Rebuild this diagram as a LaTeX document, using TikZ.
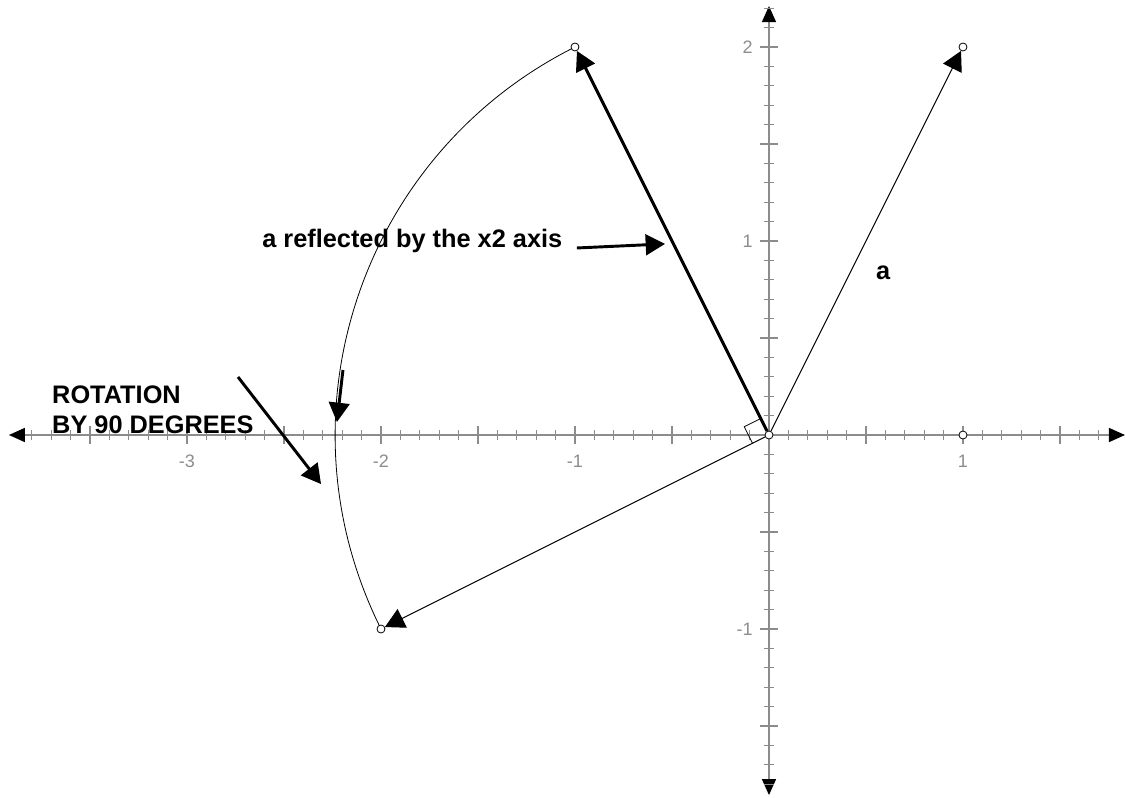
\documentclass[tikz,border=0pt]{standalone}
\usepackage{fontspec}
\setmainfont{Liberation Sans}
\usetikzlibrary{arrows.meta}
\definecolor{axisgray}{rgb}{0.55,0.55,0.55}

\tikzset{
  endpt/.style={circle, draw, fill=white, inner sep=0pt, minimum size=6pt, line width=0.6pt},
  ticklabel/.style={text=axisgray, font=\fontsize{13.5}{15}\selectfont, inner sep=0pt},
  boldlabel/.style={font=\fontsize{19}{22}\selectfont\bfseries, inner sep=0pt}
}

\begin{document}
\begin{tikzpicture}[x=145.5pt, y=145.5pt, >={Triangle[length=14.5pt, width=15.5pt]}]
  \useasboundingbox (-3.9639,-1.8660) rectangle (1.8351,2.2423);
  % axes with arrows at both ends
  \coordinate (xmin) at (-3.918,0); \coordinate (xmax) at (1.835,0);
  \coordinate (ymin) at (0,-1.856); \coordinate (ymax) at (0,2.211);
  \draw[axisgray, line width=1.1pt, {Triangle[length=12pt, width=10.5pt, color=black]}-{Triangle[length=12pt, width=10.5pt, color=black]}] (xmin) -- (xmax);
  \draw[axisgray, line width=1.1pt, {Triangle[length=12pt, width=10.5pt, color=black]}-{Triangle[length=12pt, width=10.5pt, color=black]}] (ymin) -- (ymax);
  % ticks every 0.1, longer every 0.5
  \foreach \i in {-38,...,17} {
    \ifnum\i=0 \else
      \pgfmathsetmacro{\len}{ifthenelse(mod(\i,5)==0,0.044,0.028)}
      \draw[axisgray, line width=0.9pt] (\i/10,-\len) -- (\i/10,\len);
    \fi
  }
  \foreach \i in {-18,...,22} {
    \ifnum\i=0 \else
      \pgfmathsetmacro{\len}{ifthenelse(mod(\i,5)==0,0.044,0.028)}
      \draw[axisgray, line width=0.9pt] (-\len,\i/10) -- (\len,\i/10);
    \fi
  }
  \foreach \n in {-3,-2,-1,1}
    \node[ticklabel] (xlab\n) at (\n,-0.137) {\n};
  \foreach \n in {-1,1,2}
    \node[ticklabel, anchor=east] (ylab\n) at (-0.0825,\n) {\n};
  % arc of the rotation, radius sqrt(5)
  \draw[line width=0.6pt] (-1,2) arc[start angle=116.565, end angle=206.565, radius=2.23607];
  % right angle at the origin
  \draw[line width=0.6pt] (-0.0425,0.085) -- (-0.1275,0.0425) -- (-0.085,-0.0425);
  % end points
  \node[endpt] (O) at (0,0) {};
  \node[endpt] (A) at (1,2) {};
  \node[endpt] (R) at (-1,2) {};
  \node[endpt] (Q) at (-2,-1) {};
  \node[endpt] (E) at (1,0) {};
  % vectors
  \draw[->, line width=0.8pt] (O) -- (A);
  \draw[->, line width=2.2pt] (O) -- (R);
  \draw[->, line width=0.8pt] (O) -- (Q);
  % labels
  \node[boldlabel, anchor=base west] (refltext) at (-2.613,0.964) {a reflected by the x2 axis};
  \node[boldlabel, anchor=base] (alabel) at (0.588,0.804) {a};
  \node[boldlabel, anchor=base west] (rottext) at (-3.696,0.160) {ROTATION};
  \node[boldlabel, anchor=base west] (degtext) at (-3.696,0.0103) {BY 90 DEGREES};
  % pointer arrows
  \coordinate (reflfrom) at (-0.990,0.964); \coordinate (reflto) at (-0.536,0.985);
  \coordinate (arcfrom) at (-2.196,0.335); \coordinate (arcto) at (-2.227,0.067);
  \coordinate (rotfrom) at (-2.737,0.299); \coordinate (rotto) at (-2.309,-0.253);
  \draw[->, line width=2.2pt] (reflfrom) -- (reflto);
  \draw[->, line width=2.2pt] (arcfrom) -- (arcto);
  \draw[->, line width=2.2pt] (rotfrom) -- (rotto);
\end{tikzpicture}
\end{document}
